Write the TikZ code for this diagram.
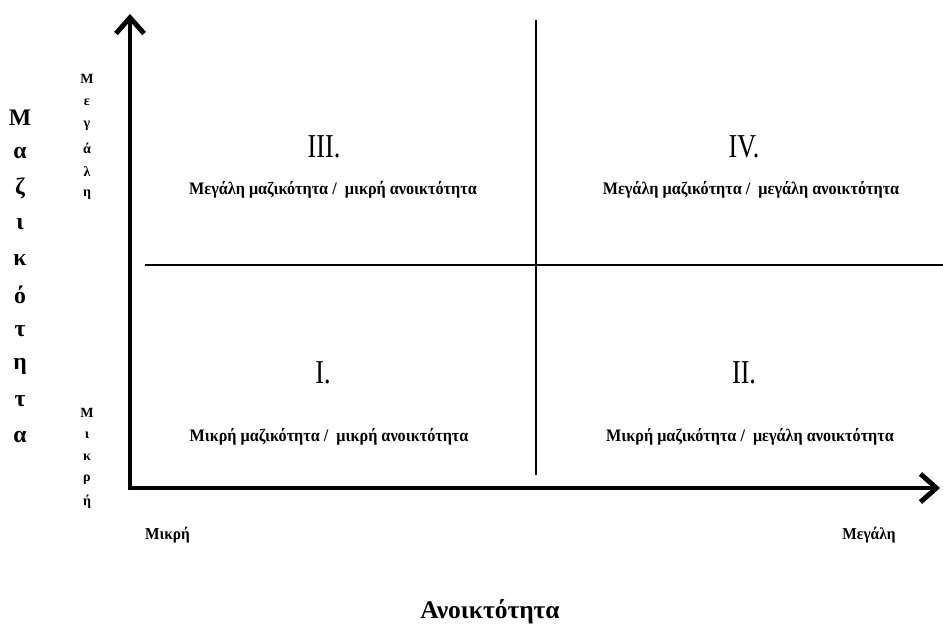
\documentclass[tikz,border=0pt]{standalone}
\usepackage{fontspec}
\setmainfont{Liberation Serif}
\newfontfamily\narrowfont[FakeStretch=0.92]{Liberation Serif}
\newfontfamily\numfont[FakeStretch=0.78]{Liberation Serif}
\usetikzlibrary{arrows.meta}
\definecolor{AxisClr}{rgb}{0,0,0}

\tikzset{
  axis/.style={line width=2.8pt,color=AxisClr,-{Straight Barb[length=9pt,width=16pt,line width=2.8pt]}},
  divider/.style={line width=0.7pt,color=AxisClr},
  quadnum/.style={font=\numfont\fontsize{19}{19}\selectfont},
  quadtext/.style={font=\narrowfont\fontsize{10}{10}\bfseries\selectfont},
  biglabel/.style={font=\fontsize{13.5}{13.5}\bfseries\selectfont},
  smalllabel/.style={font=\fontsize{8}{8}\bfseries\selectfont},
  endlabel/.style={font=\narrowfont\fontsize{9.5}{9.5}\bfseries\selectfont}
}

\begin{document}
\begin{tikzpicture}
\useasboundingbox (0,0) rectangle (18.86,12.52);

% axes
\coordinate (O) at (2.6,2.76);
\coordinate (Ytip) at (2.6,12.24);
\coordinate (Xtip) at (18.8,2.76);
\draw[axis] ([yshift=-1.4pt]O) -- (Ytip);
\draw[axis] ([xshift=-1.4pt]O) -- (Xtip);

% quadrant lines
\coordinate (Vtop) at (10.72,12.12);
\coordinate (Vbot) at (10.72,3.02);
\coordinate (Hleft) at (2.9,7.22);
\coordinate (Hright) at (18.86,7.22);
\draw[divider] (Vtop) -- (Vbot);
\draw[divider] (Hleft) -- (Hright);

% quadrants
\node[quadnum] (q3) at (6.48,9.58) {III.};
\node[quadnum] (q4) at (14.88,9.58) {IV.};
\node[quadnum] (q1) at (6.46,5.06) {I.};
\node[quadnum] (q2) at (14.88,5.06) {II.};

\node[quadtext] (t3) at (6.66,8.72) {Μεγάλη μαζικότητα /\ \ μικρή ανοικτότητα};
\node[quadtext] (t4) at (15.02,8.72) {Μεγάλη μαζικότητα /\ \ μεγάλη ανοικτότητα};
\node[quadtext] (t1) at (6.58,3.78) {Μικρή μαζικότητα /\ \ μικρή ανοικτότητα};
\node[quadtext] (t2) at (15.0,3.78) {Μικρή μαζικότητα /\ \ μεγάλη ανοικτότητα};

% vertical axis labels
\foreach \l [count=\i from 0] in {Μ,α,ζ,ι,κ,ό,τ,η,τ,α}
  \node[biglabel] (ma\i) at (0.4,10.16-0.709*\i) {\l};
\foreach \l [count=\i from 0] in {Μ,ε,γ,ά,λ,η}
  \node[smalllabel] (me\i) at (1.74,10.94-0.464*\i) {\l};
\foreach \l [count=\i from 0] in {Μ,ι,κ,ρ,ή}
  \node[smalllabel] (mi\i) at (1.74,4.26-0.445*\i) {\l};

% horizontal axis labels
\node[endlabel] (xlow) at (3.35,1.82) {Μικρή};
\node[endlabel] (xhigh) at (17.38,1.82) {Μεγάλη};
\node[biglabel,font=\fontsize{14.5}{14.5}\bfseries\selectfont] (xname) at (9.8,0.28) {Ανοικτότητα};

\end{tikzpicture}
\end{document}
